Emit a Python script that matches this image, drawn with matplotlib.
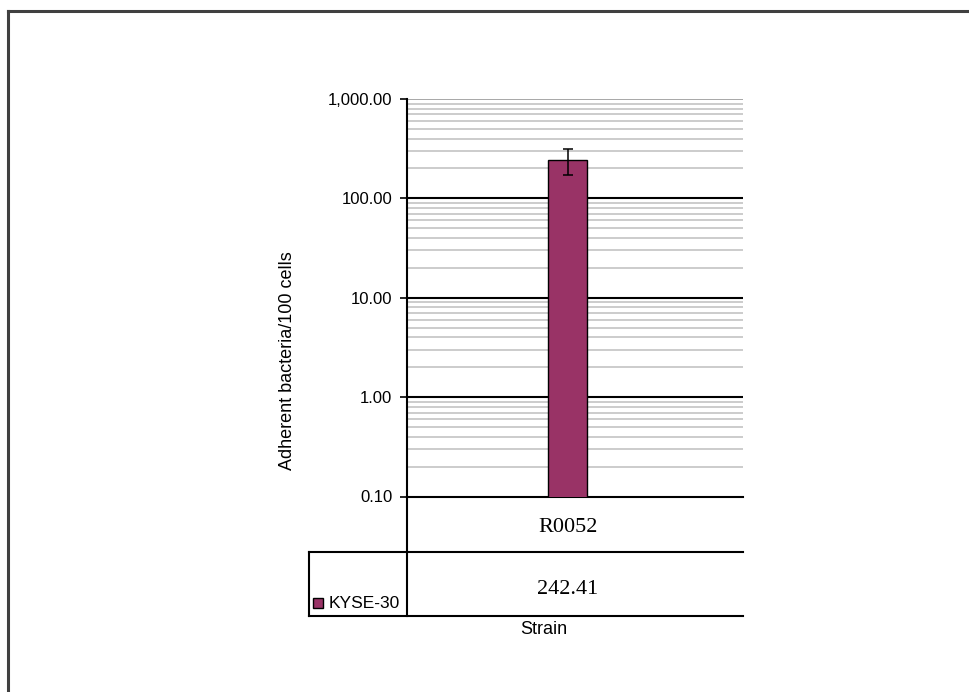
#!/usr/bin/env python3

import matplotlib
matplotlib.use("Agg")
import matplotlib.pyplot as plt
from matplotlib.lines import Line2D
from matplotlib.patches import Rectangle
from matplotlib.ticker import FixedLocator, FuncFormatter, NullFormatter

# data
strains = ['R0052']
series_name = 'KYSE-30'
adherence = [242.41]
adherence_err = [70.0]
ytick_vals = [0.1, 1, 10, 100, 1000]
minor_subs = [2, 3, 4, 5, 6, 7, 8, 9]

BAR_COLOR = '#993366'
W, H = 969, 692


def px(x, y):
    # pixel position -> figure fraction
    return x / W, 1 - y / H


def main():
    plt.rcParams['font.family'] = ['Liberation Sans', 'DejaVu Sans']
    fig = plt.figure(figsize=(W / 100, H / 100), dpi=100)

    left, top = px(407, 99)
    right, bottom = px(743, 496.5)
    ax = fig.add_axes([left, bottom, right - left, top - bottom])

    xpos = list(range(len(strains)))
    ax.bar(xpos, adherence, width=0.116, color=BAR_COLOR, edgecolor='black',
           linewidth=1.0, zorder=3)
    ax.errorbar(xpos, adherence, yerr=adherence_err, fmt='none',
                ecolor='black', elinewidth=1.1, capsize=3.3, capthick=1.1,
                zorder=4)

    ax.set_yscale('log')
    ax.set_ylim(ytick_vals[0], ytick_vals[-1])
    ax.set_xlim(-0.478, 0.522)

    ax.yaxis.set_major_locator(FixedLocator(ytick_vals))
    ax.yaxis.set_major_formatter(FuncFormatter(lambda v, p: f"{v:,.2f}"))
    minors = [s * v for v in ytick_vals[:-1] for s in minor_subs]
    ax.yaxis.set_minor_locator(FixedLocator(minors))
    ax.yaxis.set_minor_formatter(NullFormatter())
    ax.tick_params(axis='y', which='major', length=5, width=1.2,
                   pad=5.5, labelsize=12, color='black')
    ax.tick_params(axis='y', which='minor', length=0)
    ax.tick_params(axis='x', length=0, labelbottom=False)

    # gridlines
    for v in minors:
        ax.axhline(v, color='#c8c8c8', lw=1.3, zorder=1)
    for v in ytick_vals[1:-1]:
        ax.axhline(v, color='black', lw=1.5, zorder=2)
    ax.axhline(ytick_vals[-1], color='#a0a0a0', lw=1.3, zorder=2)

    for s in ['top', 'right']:
        ax.spines[s].set_visible(False)
    ax.spines['left'].set_linewidth(1.5)
    ax.spines['bottom'].set_linewidth(1.5)

    # data table under the chart
    def hline(x0, x1, y):
        a, b = px(x0, y)
        c, d = px(x1, y)
        fig.add_artist(Line2D([a, c], [b, d], color='black', lw=1.5,
                              transform=fig.transFigure))

    def vline(x, y0, y1):
        a, b = px(x, y0)
        c, d = px(x, y1)
        fig.add_artist(Line2D([a, c], [b, d], color='black', lw=1.5,
                              transform=fig.transFigure))

    hline(309, 743, 552)
    hline(309, 743, 615.5)
    vline(407, 496.5, 615.5)
    vline(309, 552, 615.5)

    trans = matplotlib.transforms.blended_transform_factory(ax.transData,
                                                            fig.transFigure)
    for x, name, val in zip(xpos, strains, adherence):
        fig.text(x, px(0, 527)[1], name, transform=trans, ha='center',
                 va='center', fontsize=16, family='Liberation Serif')
        fig.text(x, px(0, 589)[1], f"{val:.2f}", transform=trans,
                 ha='center', va='center', fontsize=16,
                 family='Liberation Serif')

    # legend key in the table
    kx, ky = px(313, 608)
    kw = 10 / W
    kh = 10 / H
    fig.add_artist(Rectangle((kx, ky), kw, kh, facecolor=BAR_COLOR,
                             edgecolor='black', lw=1.0,
                             transform=fig.transFigure))
    tx, ty = px(329, 603)
    fig.text(tx, ty, series_name, ha='left', va='center', fontsize=12.5)

    sx, sy = px(543.5, 630)
    fig.text(sx, sy, 'Strain', ha='center', va='center', fontsize=13)

    lx, ly = px(287.5, 361)
    fig.text(lx, ly, 'Adherent bacteria/100 cells', rotation=90,
             ha='center', va='center', fontsize=13)

    # outer frame (only top and left edges are visible)
    a, b = px(8, 11)
    fig.add_artist(Line2D([a, 1.01], [b, b], color='#404040', lw=2.2,
                          transform=fig.transFigure))
    fig.add_artist(Line2D([a, a], [b, -0.01], color='#404040', lw=2.2,
                          transform=fig.transFigure))

    fig.savefig('out.png', dpi=100)
    plt.close()


if __name__ == '__main__':
    main()
